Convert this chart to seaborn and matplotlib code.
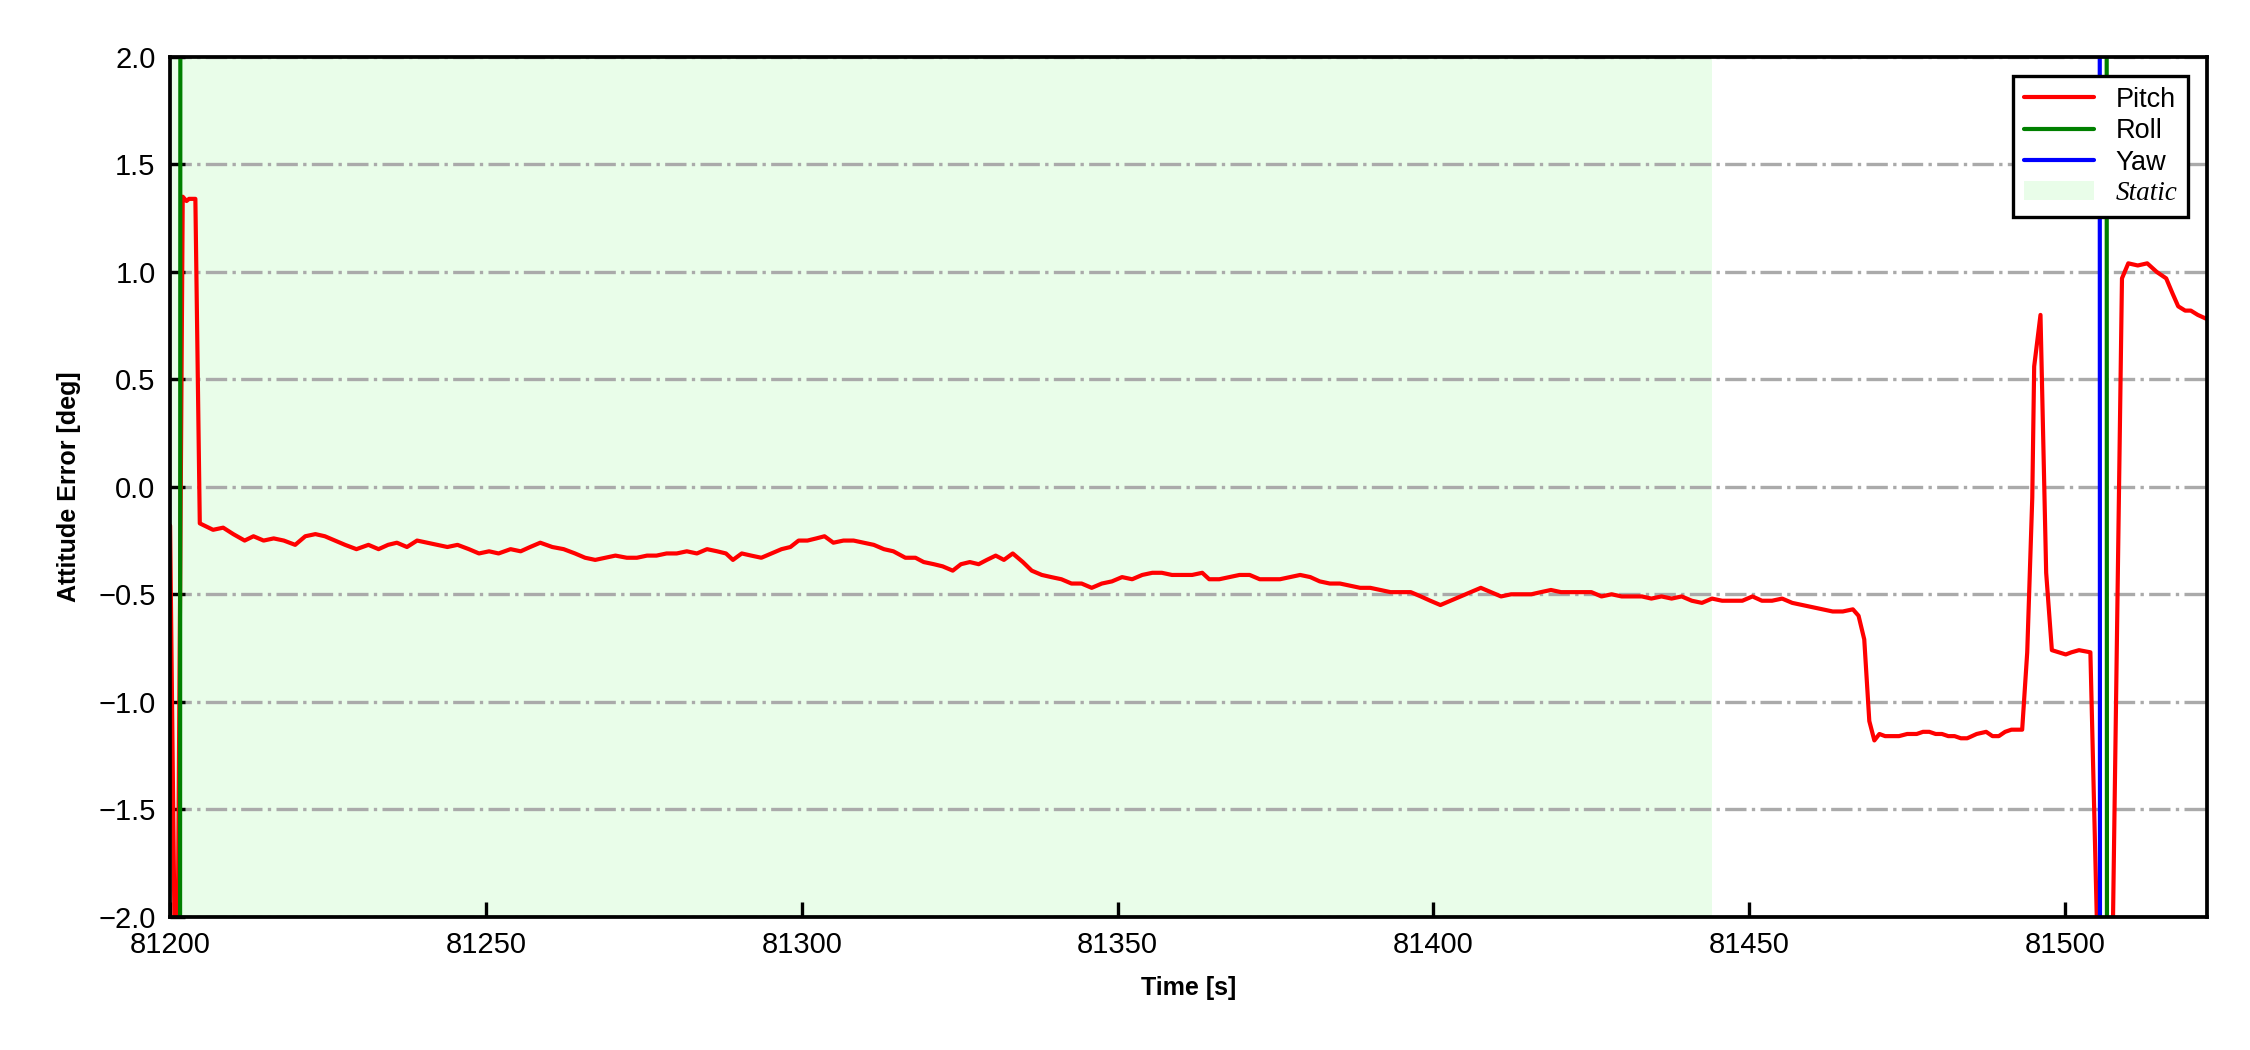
import matplotlib
matplotlib.use("Agg")
import matplotlib.pyplot as plt
import seaborn as sns
from matplotlib.patches import Patch
from matplotlib.lines import Line2D

# attitude error traces
pitch_t = [81200.0, 81200.9, 81201.1, 81202.0, 81202.6, 81203.0, 81204.0, 81204.7,
           81206.8, 81208.4, 81210.0, 81211.8, 81213.2, 81214.8, 81216.4, 81218.0,
           81219.8, 81221.4, 81223.0, 81224.5, 81226.1, 81227.7, 81229.5, 81231.4,
           81233.0, 81234.5, 81235.9, 81237.5, 81239.1, 81240.7, 81242.3, 81243.9,
           81245.5, 81247.3, 81248.9, 81250.5, 81252.0, 81253.9, 81255.5, 81257.0,
           81258.6, 81260.5, 81262.3, 81264.1, 81265.7, 81267.3, 81268.9, 81270.5,
           81272.3, 81273.9, 81275.5, 81277.0, 81278.6, 81280.2, 81281.8, 81283.4,
           81285.0, 81286.6, 81288.0, 81289.1, 81290.5, 81292.0, 81293.6, 81295.2,
           81296.8, 81298.2, 81299.5, 81300.9, 81302.3, 81303.6, 81305.0, 81306.6,
           81308.2, 81309.8, 81311.4, 81313.0, 81314.5, 81316.4, 81318.0, 81319.3,
           81320.9, 81322.3, 81323.9, 81325.2, 81326.6, 81328.0, 81329.3, 81330.7,
           81332.0, 81333.4, 81335.0, 81336.4, 81338.0, 81339.5, 81341.1, 81342.7,
           81344.3, 81345.9, 81347.5, 81349.1, 81350.7, 81352.3, 81353.9, 81355.5,
           81357.0, 81358.6, 81360.2, 81361.8, 81363.4, 81364.5, 81366.1, 81367.7,
           81369.3, 81370.9, 81372.5, 81374.1, 81375.7, 81377.3, 81378.9, 81380.5,
           81382.0, 81383.6, 81385.2, 81386.8, 81388.4, 81390.0, 81391.6, 81393.2,
           81394.8, 81396.4, 81398.0, 81399.5, 81401.1, 81402.7, 81404.3, 81405.9,
           81407.5, 81409.1, 81410.7, 81412.3, 81413.9, 81415.5, 81417.0, 81418.6,
           81420.2, 81421.8, 81423.4, 81425.0, 81426.6, 81428.2, 81429.8, 81431.4,
           81433.0, 81434.5, 81436.1, 81437.7, 81439.3, 81440.9, 81442.5, 81444.1,
           81445.7, 81447.3, 81448.9, 81450.5, 81452.0, 81453.6, 81455.2, 81456.8,
           81458.4, 81460.0, 81461.6, 81463.2, 81464.8, 81466.4, 81467.3, 81468.2,
           81469.0, 81469.8, 81470.6, 81471.5, 81473.7, 81475.0, 81476.5, 81477.5,
           81478.5, 81479.5, 81480.5, 81481.5, 81482.5, 81483.5, 81484.5, 81486.0,
           81487.5, 81488.5, 81489.5, 81490.5, 81491.5, 81493.2, 81494.0, 81494.8,
           81495.1, 81496.1, 81497.0, 81497.9, 81499.0, 81500.1, 81501.0, 81502.2,
           81504.0, 81505.5, 81507.3, 81509.0, 81510.0, 81511.5, 81513.0, 81514.5,
           81516.0, 81517.0, 81517.9, 81519.0, 81519.9, 81521.0, 81522.5]
pitch_v = [-0.18, -2.6, -2.6, 1.35, 1.33, 1.34, 1.34, -0.17,
           -0.20, -0.19, -0.22, -0.25, -0.23, -0.25, -0.24, -0.25,
           -0.27, -0.23, -0.22, -0.23, -0.25, -0.27, -0.29, -0.27,
           -0.29, -0.27, -0.26, -0.28, -0.25, -0.26, -0.27, -0.28,
           -0.27, -0.29, -0.31, -0.30, -0.31, -0.29, -0.30, -0.28,
           -0.26, -0.28, -0.29, -0.31, -0.33, -0.34, -0.33, -0.32,
           -0.33, -0.33, -0.32, -0.32, -0.31, -0.31, -0.30, -0.31,
           -0.29, -0.30, -0.31, -0.34, -0.31, -0.32, -0.33, -0.31,
           -0.29, -0.28, -0.25, -0.25, -0.24, -0.23, -0.26, -0.25,
           -0.25, -0.26, -0.27, -0.29, -0.30, -0.33, -0.33, -0.35,
           -0.36, -0.37, -0.39, -0.36, -0.35, -0.36, -0.34, -0.32,
           -0.34, -0.31, -0.35, -0.39, -0.41, -0.42, -0.43, -0.45,
           -0.45, -0.47, -0.45, -0.44, -0.42, -0.43, -0.41, -0.40,
           -0.40, -0.41, -0.41, -0.41, -0.40, -0.43, -0.43, -0.42,
           -0.41, -0.41, -0.43, -0.43, -0.43, -0.42, -0.41, -0.42,
           -0.44, -0.45, -0.45, -0.46, -0.47, -0.47, -0.48, -0.49,
           -0.49, -0.49, -0.51, -0.53, -0.55, -0.53, -0.51, -0.49,
           -0.47, -0.49, -0.51, -0.50, -0.50, -0.50, -0.49, -0.48,
           -0.49, -0.49, -0.49, -0.49, -0.51, -0.50, -0.51, -0.51,
           -0.51, -0.52, -0.51, -0.52, -0.51, -0.53, -0.54, -0.52,
           -0.53, -0.53, -0.53, -0.51, -0.53, -0.53, -0.52, -0.54,
           -0.55, -0.56, -0.57, -0.58, -0.58, -0.57, -0.60, -0.71,
           -1.09, -1.18, -1.15, -1.16, -1.16, -1.15, -1.15, -1.14,
           -1.14, -1.15, -1.15, -1.16, -1.16, -1.17, -1.17, -1.15,
           -1.14, -1.16, -1.16, -1.14, -1.13, -1.13, -0.77, -0.05,
           0.56, 0.80, -0.40, -0.76, -0.77, -0.78, -0.77, -0.76,
           -0.77, -2.6, -2.6, 0.97, 1.04, 1.03, 1.04, 1.00,
           0.97, 0.90, 0.84, 0.82, 0.82, 0.80, 0.78]

roll_t = [81200.0, 81201.55, 81201.65, 81506.55, 81506.65, 81523.0]
roll_v = [-5.0, -5.0, 5.0, 5.0, -5.0, -5.0]

yaw_t = [81200.0, 81505.45, 81505.55, 81523.0]
yaw_v = [6.0, 6.0, -6.0, -6.0]

static_span = [81200.0, 81444.1]

x_ticks = [81200, 81250, 81300, 81350, 81400, 81450, 81500]
y_ticks = [-2.0, -1.5, -1.0, -0.5, 0.0, 0.5, 1.0, 1.5, 2.0]

sns.set_style("white")
plt.rcParams["font.family"] = ["Liberation Sans", "DejaVu Sans"]
plt.rcParams.update({"text.color": "black", "axes.labelcolor": "black",
                     "xtick.color": "black", "ytick.color": "black"})

fig, ax = plt.subplots(figsize=(7.5, 3.5), dpi=300)
fig.subplots_adjust(left=0.0756, right=0.981, top=0.9457, bottom=0.127)

ax.axvspan(static_span[0], static_span[1], color="#e9fde9", lw=0, zorder=0)

sns.lineplot(x=pitch_t, y=pitch_v, color="red", lw=1, sort=False, estimator=None, ax=ax)
sns.lineplot(x=roll_t, y=roll_v, color="green", lw=1, sort=False, estimator=None, ax=ax)
sns.lineplot(x=yaw_t, y=yaw_v, color="blue", lw=1, sort=False, estimator=None, ax=ax)

ax.set_xlim(81200, 81522.5)
ax.set_ylim(-2.0, 2.0)
ax.set_xticks(x_ticks)
ax.set_yticks(y_ticks)
ax.set_xticklabels([str(t) for t in x_ticks])
ax.yaxis.grid(True, linestyle="-.", color="#aaaaaa", lw=0.8)
ax.xaxis.grid(False)
ax.set_axisbelow(True)
ax.tick_params(direction="in", length=3.5, width=0.8, labelsize=7,
               colors="black", bottom=True, left=True)

for s in ax.spines.values():
    s.set_color("black")
    s.set_linewidth(0.9)

ax.set_xlabel("Time [s]", fontsize=6, fontweight="bold", color="black")
ax.set_ylabel("Attitude Error [deg]", fontsize=6, fontweight="bold", color="black")

handles = [Line2D([], [], color="red", lw=1),
           Line2D([], [], color="green", lw=1),
           Line2D([], [], color="blue", lw=1),
           Patch(facecolor="#e9fde9", edgecolor="none")]
leg = ax.legend(handles, ["Pitch", "Roll", "Yaw", "Static"], loc="upper right",
                fontsize=6.5, frameon=True, fancybox=False, framealpha=1,
                edgecolor="black", labelspacing=0.2, handlelength=2.6,
                borderaxespad=0.7)
leg.get_frame().set_linewidth(0.8)
for t in leg.get_texts():
    t.set_color("black")
st = leg.get_texts()[3]
st.set_fontfamily("Liberation Serif")
st.set_fontstyle("italic")

fig.savefig("out.png", dpi=300)
